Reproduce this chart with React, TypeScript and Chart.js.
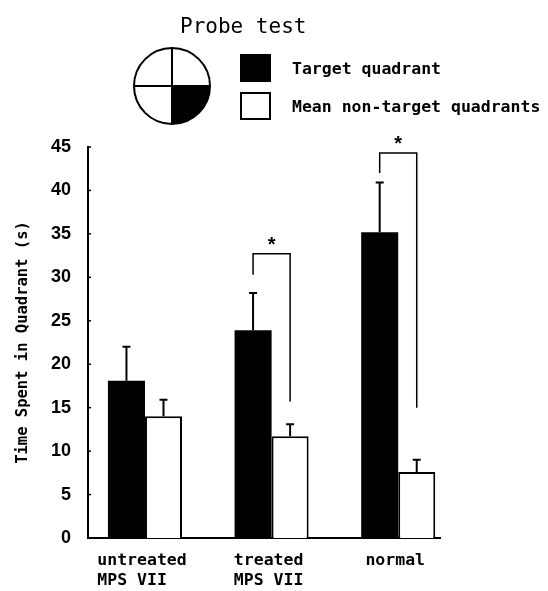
import React, { useEffect, useRef } from 'react';
import { Chart, registerables } from 'chart.js';

Chart.register(...registerables);

// ---- Data ----
const CATEGORIES: string[][] = [
  ['untreated', 'MPS VII  '],
  ['treated', 'MPS VII'],
  ['normal'],
];
const SERIES_LABELS = ['Target quadrant', 'Mean non-target quadrants'];
const TARGET = [18.1, 23.9, 35.2];
const TARGET_ERR = [3.9, 4.3, 5.7];
const NON_TARGET = [14.0, 11.7, 7.6];
const NON_TARGET_ERR = [1.9, 1.4, 1.4];
const Y_TICKS = [0, 5, 10, 15, 20, 25, 30, 35, 40, 45];
// significance brackets: category index, top of bracket, bottom of left leg, bottom of right leg
const BRACKET_GROUP = [1, 2];
const BRACKET_TOP = [32.7, 44.3];
const BRACKET_LEFT_END = [30.3, 42.0];
const BRACKET_RIGHT_END = [15.7, 15.0];
const BRACKET_MARK = ['*', '*'];
const TITLE = 'Probe test';
const Y_TITLE = 'Time Spent in Quadrant (s)';

const MONO = "'DejaVu Sans Mono', 'Liberation Mono', monospace";

const overlay = {
  id: 'overlay',
  afterDraw(chart: any) {
    const ctx: CanvasRenderingContext2D = chart.ctx;
    const xs = chart.scales.x;
    const ys = chart.scales.y;
    ctx.save();
    ctx.strokeStyle = '#000';
    ctx.fillStyle = '#000';

    // inward y tick marks
    ctx.lineWidth = 1.5;
    Y_TICKS.forEach((v) => {
      const py = ys.getPixelForValue(v);
      ctx.beginPath();
      ctx.moveTo(xs.left, py);
      ctx.lineTo(xs.left + 3, py);
      ctx.stroke();
    });

    // error bars (upper whisker only)
    ctx.lineWidth = 2;
    [TARGET_ERR, NON_TARGET_ERR].forEach((errs, di) => {
      const meta = chart.getDatasetMeta(di);
      const vals = di === 0 ? TARGET : NON_TARGET;
      meta.data.forEach((bar: any, i: number) => {
        const top = ys.getPixelForValue(vals[i] + errs[i]);
        const base = ys.getPixelForValue(vals[i]);
        ctx.beginPath();
        ctx.moveTo(bar.x, base);
        ctx.lineTo(bar.x, top);
        ctx.moveTo(bar.x - 4, top);
        ctx.lineTo(bar.x + 4, top);
        ctx.stroke();
      });
    });

    // significance brackets
    const m0 = chart.getDatasetMeta(0);
    const m1 = chart.getDatasetMeta(1);
    ctx.lineWidth = 1.5;
    BRACKET_GROUP.forEach((g, k) => {
      const lx = m0.data[g].x;
      const rx = m1.data[g].x;
      const ty = ys.getPixelForValue(BRACKET_TOP[k]);
      ctx.beginPath();
      ctx.moveTo(lx, ys.getPixelForValue(BRACKET_LEFT_END[k]));
      ctx.lineTo(lx, ty);
      ctx.lineTo(rx, ty);
      ctx.lineTo(rx, ys.getPixelForValue(BRACKET_RIGHT_END[k]));
      ctx.stroke();
      ctx.font = "bold 20px 'Liberation Sans', Arial, sans-serif";
      ctx.textAlign = 'center';
      ctx.textBaseline = 'alphabetic';
      ctx.fillText(BRACKET_MARK[k], (lx + rx) / 2, ty - 3);
    });

    // title
    ctx.font = `21px ${MONO}`;
    ctx.textAlign = 'left';
    ctx.textBaseline = 'alphabetic';
    ctx.fillText(TITLE, 180, 33);

    // quadrant diagram
    const cx = 172, cy = 86, r = 38;
    ctx.beginPath();
    ctx.moveTo(cx, cy);
    ctx.arc(cx, cy, r, 0, Math.PI / 2);
    ctx.closePath();
    ctx.fill();
    ctx.lineWidth = 2;
    ctx.beginPath();
    ctx.arc(cx, cy, r, 0, Math.PI * 2);
    ctx.stroke();
    ctx.beginPath();
    ctx.moveTo(cx - r, cy);
    ctx.lineTo(cx + r, cy);
    ctx.moveTo(cx, cy - r);
    ctx.lineTo(cx, cy + r);
    ctx.stroke();

    // legend
    const ds = chart.data.datasets;
    const rows = [68, 106];
    ds.forEach((d: any, i: number) => {
      const yy = rows[i];
      ctx.fillStyle = d.backgroundColor;
      ctx.fillRect(241, yy - 13, 29, 26);
      ctx.lineWidth = 2;
      ctx.strokeStyle = '#000';
      ctx.strokeRect(241, yy - 13, 29, 26);
      ctx.fillStyle = '#000';
      ctx.font = `bold 16.5px ${MONO}`;
      ctx.textAlign = 'left';
      ctx.textBaseline = 'middle';
      ctx.fillText(d.label, 292, yy + 2);
    });
    ctx.restore();
  },
};

export default function App() {
  const ref = useRef<HTMLCanvasElement | null>(null);

  useEffect(() => {
    if (!ref.current) return;
    const chart = new Chart(ref.current, {
      type: 'bar',
      data: {
        datasets: [
          {
            label: SERIES_LABELS[0],
            data: TARGET.map((v, i) => ({ x: i, y: v })),
            backgroundColor: '#000',
            borderColor: '#000',
            borderWidth: 0,
          },
          {
            label: SERIES_LABELS[1],
            data: NON_TARGET.map((v, i) => ({ x: i, y: v })),
            backgroundColor: '#fff',
            borderColor: '#000',
            borderWidth: 2,
          },
        ],
      },
      options: {
        animation: false,
        responsive: false,
        events: [],
        categoryPercentage: 0.585,
        barPercentage: 1,
        layout: { padding: { top: 147, right: 108, left: 0, bottom: 0 } },
        plugins: {
          legend: { display: false },
          tooltip: { enabled: false },
        },
        scales: {
          x: {
            type: 'linear',
            min: -0.45,
            max: 2.33,
            offset: false,
            grid: { display: false, drawTicks: false, offset: false },
            border: { display: true, color: '#000', width: 2 },
            afterBuildTicks: (s: any) => {
              s.ticks = CATEGORIES.map((_, i) => ({ value: i }));
            },
            afterFit: (s: any) => {
              s.height = 53;
            },
            ticks: {
              color: '#000',
              font: { family: MONO, size: 16.5, weight: 'bold', lineHeight: 1.25 },
              padding: 12,
              labelOffset: -3,
              autoSkip: false,
              maxRotation: 0,
              minRotation: 0,
              callback: (v: any) => CATEGORIES[v as number] ?? '',
            },
          },
          y: {
            min: 0,
            max: 45,
            grid: { display: false, drawTicks: false },
            border: { display: true, color: '#000', width: 2 },
            afterBuildTicks: (s: any) => {
              s.ticks = Y_TICKS.map((v) => ({ value: v }));
            },
            afterFit: (s: any) => {
              s.width = 88;
            },
            ticks: {
              color: '#000',
              font: { family: "'Liberation Sans', Arial, sans-serif", size: 18, weight: 'bold' },
              padding: 17,
            },
            title: {
              display: true,
              text: Y_TITLE,
              color: '#000',
              font: { family: MONO, size: 15.5, weight: 'bold' },
              padding: { top: 14, bottom: 0 },
            },
          },
        },
      } as any,
      plugins: [overlay],
    });
    return () => chart.destroy();
  }, []);

  return (
    <div style={{ position: 'fixed', left: 0, top: 0, width: 548, height: 591, background: '#fff' }}>
      <canvas ref={ref} width={548} height={591} style={{ display: 'block' }} />
    </div>
  );
}
